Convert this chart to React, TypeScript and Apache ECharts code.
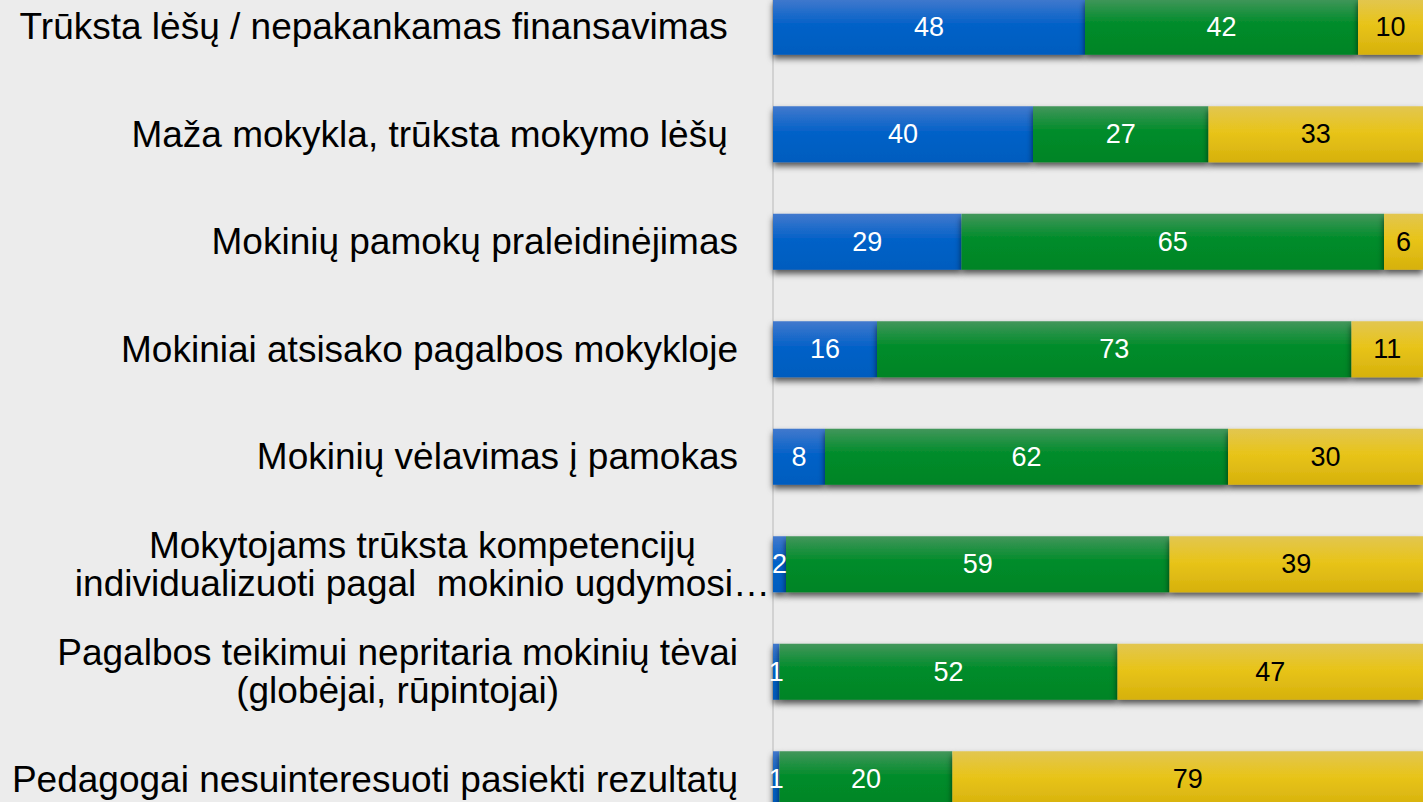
import React, { useEffect, useRef } from 'react';
import * as echarts from 'echarts';

const categories = [
  'Trūksta lėšų / nepakankamas finansavimas ',
  'Maža mokykla, trūksta mokymo lėšų ',
  'Mokinių pamokų praleidinėjimas',
  'Mokiniai atsisako pagalbos mokykloje',
  'Mokinių vėlavimas į pamokas',
  'Mokytojams trūksta kompetencijų\nindividualizuoti pagal  mokinio ugdymosi…',
  'Pagalbos teikimui nepritaria mokinių tėvai\n(globėjai, rūpintojai)',
  'Pedagogai nesuinteresuoti pasiekti rezultatų',
];

// drawn bar lengths (percent of the row)
const blueValues = [48, 40, 29, 16, 8, 2, 1, 1];
const greenValues = [42, 27, 65, 73, 62, 59, 52, 26.6];
const yellowValues = [10, 33, 6, 11, 30, 39, 47, 72.4];

// numbers printed on the bars
const blueLabels = [48, 40, 29, 16, 8, 2, 1, 1];
const greenLabels = [42, 27, 65, 73, 62, 59, 52, 20];
const yellowLabels = [10, 33, 6, 11, 30, 39, 47, 79];

const FONT = '"Liberation Sans", Arial, Helvetica, sans-serif';

function grad(top: string, mid: string, bottom: string) {
  return new echarts.graphic.LinearGradient(0, 0, 0, 1, [
    { offset: 0, color: top },
    { offset: 0.45, color: mid },
    { offset: 1, color: bottom },
  ]);
}

function makeSeries(name: string, values: number[], labels: number[], color: any, textColor: string) {
  return {
    name,
    type: 'bar',
    stack: 'total',
    barWidth: 56,
    data: values,
    itemStyle: {
      color,
      shadowColor: 'rgba(0,0,0,0.65)',
      shadowBlur: 6,
      shadowOffsetY: 4,
    },
    label: {
      show: true,
      position: 'inside',
      color: textColor,
      fontSize: 27,
      fontFamily: FONT,
      formatter: (p: any) => String(labels[p.dataIndex]),
    },
  };
}

export default function App() {
  const ref = useRef<HTMLDivElement>(null);
  useEffect(() => {
    if (!ref.current) return;
    const chart = echarts.init(ref.current, undefined, { renderer: 'svg' });
    const tokenBase = { fontSize: 37, fontFamily: FONT, color: '#000', lineHeight: 38 };
    chart.setOption({
      animation: false,
      backgroundColor: '#ececec',
      grid: { left: 773, right: 0, top: 0, bottom: 0, containLabel: false },
      xAxis: { type: 'value', min: 0, max: 100, show: false },
      yAxis: {
        type: 'category',
        inverse: true,
        data: categories,
        axisTick: { show: false },
        axisLine: { show: true, lineStyle: { color: '#d2d2d2', width: 2 } },
        axisLabel: {
          margin: 3,
          fontSize: 37,
          fontFamily: FONT,
          color: '#000',
          formatter: (v: string) => {
            const lines = v.split('\n');
            if (lines.length > 1) {
              const key = v.includes('…') ? 'm' : 'c';
              return lines.map((l) => `{${key}|${l}}`).join('\n');
            }
            return `{r|${v}}`;
          },
          rich: {
            r: { ...tokenBase, align: 'right', padding: [0, 32, 0, 0] },
            c: { ...tokenBase, align: 'center', padding: [0, 32, 0, 0] },
            m: { ...tokenBase, align: 'center' },
          },
        },
      },
      series: [
        makeSeries('Labai trukdo', blueValues, blueLabels, grad('#4279cd', '#0562c8', '#005cbe'), '#ffffff'),
        makeSeries('Šiek tiek trukdo', greenValues, greenLabels, grad('#42965b', '#008c2a', '#008426'), '#ffffff'),
        makeSeries('Netrukdo', yellowValues, yellowLabels, grad('#e2c650', '#e8c41a', '#d6b10c'), '#000000'),
      ],
    });
    return () => chart.dispose();
  }, []);
  return (
    <div style={{ position: 'fixed', left: 0, top: 0, width: 1423, height: 802, overflow: 'hidden', background: '#ececec' }}>
      <div ref={ref} style={{ position: 'absolute', left: 0, top: -27, width: 1423, height: 860 }} />
    </div>
  );
}
